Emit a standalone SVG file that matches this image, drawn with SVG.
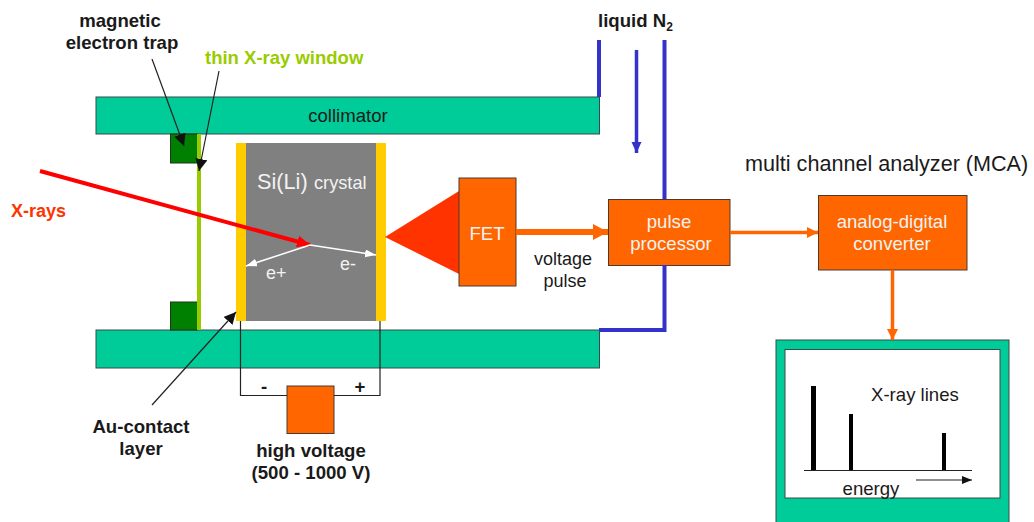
<svg xmlns="http://www.w3.org/2000/svg" width="1034" height="522" viewBox="0 0 1034 522">
<style>
text{font-family:"Liberation Sans",Arial,sans-serif;font-size:18.600px;fill:#1a1a1a}
.b{font-weight:bold}
.m{text-anchor:middle}
.w{fill:#f2f2f2}
.col{fill:#00cc99;stroke:#3a4a48;stroke-width:1}
.org{fill:#ff6600;stroke:#4a3a30;stroke-width:1}
.trap{fill:#008000;stroke:#223322;stroke-width:1}
.gold{fill:#ffcc00}
.blue{fill:none;stroke:#3333cc;stroke-width:4}
.oline{fill:none;stroke:#ff6600}
.thin{fill:none;stroke:#222;stroke-width:1.200}
.bar{fill:#000}
</style>
<defs>
<marker id="k" markerUnits="userSpaceOnUse" markerWidth="14" markerHeight="12" refX="12" refY="6" orient="auto"><path d="M0 0L12 6L0 12Z" fill="#111"/></marker>
<marker id="s" markerUnits="userSpaceOnUse" markerWidth="12" markerHeight="10" refX="10" refY="4" orient="auto"><path d="M0 0L10 4L0 8Z" fill="#111"/></marker>
<marker id="o1" markerUnits="userSpaceOnUse" markerWidth="16" markerHeight="16" refX="15" refY="8" orient="auto"><path d="M0 0L15 8L0 16Z" fill="#ff6600"/></marker>
<marker id="o2" markerUnits="userSpaceOnUse" markerWidth="12" markerHeight="12" refX="11" refY="5.500" orient="auto"><path d="M0 0L11 5.500L0 11Z" fill="#ff6600"/></marker>
<marker id="bl" markerUnits="userSpaceOnUse" markerWidth="12" markerHeight="12" refX="11" refY="5" orient="auto"><path d="M0 0L11 5L0 10Z" fill="#3333cc"/></marker>
<marker id="r" markerUnits="userSpaceOnUse" markerWidth="14" markerHeight="12" refX="13" refY="6" orient="auto"><path d="M0 0L13 6L0 12Z" fill="#ff0000"/></marker>
<marker id="wh" markerUnits="userSpaceOnUse" markerWidth="12" markerHeight="10" refX="11" refY="4" orient="auto"><path d="M0 0L11 4L0 8Z" fill="#fff"/></marker>
</defs>

<g id="collimator-top"><rect class="col" x="96" y="97" width="503.500" height="37"/><text x="348" y="122" class="m">collimator</text></g>
<g id="collimator-bottom"><rect class="col" x="96" y="330" width="503.500" height="38"/></g>
<g id="trap-top"><rect class="trap" x="170.500" y="134" width="27" height="29"/></g>
<g id="trap-bottom"><rect class="trap" x="170.500" y="302" width="27" height="28"/></g>
<g id="window"><rect x="197" y="134" width="4" height="196" fill="#99cc00"/></g>
<g id="crystal">
<rect x="246" y="143" width="130" height="178" fill="#808080"/>
<rect class="gold" x="236" y="143" width="10" height="178"/>
<rect class="gold" x="376" y="143" width="10" height="178"/>
<text x="257" y="189" class="w" style="font-size:21.700px">Si(Li)</text>
<text x="314" y="189" class="w" style="font-size:18.200px">crystal</text>
<text x="266" y="279" class="w" style="font-size:18px">e+</text>
<text x="340" y="270" class="w" style="font-size:18px">e-</text>
</g>
<g id="fet">
<path d="M385 237L459 191V274Z" fill="#ff3300"/>
<rect class="org" x="459" y="178" width="57" height="108"/>
<text x="487" y="240" class="w m">FET</text>
</g>
<g id="pulse-processor"><rect class="org" x="608.500" y="199.500" width="121.500" height="66"/>
<text x="669" y="228" class="w m">pulse</text><text x="671" y="250" class="w m">processor</text></g>
<g id="adc"><rect class="org" x="818.500" y="195.500" width="148.500" height="74.500"/>
<text x="892" y="228" class="w m">analog-digital</text><text x="892" y="250" class="w m">converter</text></g>
<g id="hv"><rect class="org" x="287" y="386" width="47" height="47.500"/></g>
<g id="mca-screen">
<rect class="col" x="776" y="340" width="233" height="190"/>
<rect x="785" y="349.500" width="215" height="148.500" fill="#fff" stroke="#3a4a48"/>
<rect class="bar" x="811" y="386" width="5" height="84"/>
<rect class="bar" x="849" y="414" width="4" height="56"/>
<rect class="bar" x="942" y="433" width="4" height="37"/>
<path d="M804 470.500H972" fill="none" stroke="#222" stroke-width="1.200"/>
<text x="871" y="401">X-ray lines</text>
<text x="871" y="495" class="m">energy</text>
</g>

<g id="connectors">
<path class="blue" d="M599 40V97"/>
<path class="blue" d="M664.500 40V199"/>
<path class="blue" d="M664.500 265V330H599"/>
<path d="M636.500 50V153" fill="none" stroke="#3333cc" stroke-width="3.500" marker-end="url(#bl)"/>
<path class="oline" d="M516 232H608" stroke-width="6" marker-end="url(#o1)"/>
<path class="oline" d="M730 232.500H818" stroke-width="3.500" marker-end="url(#o2)"/>
<path class="oline" d="M892.500 270V340" stroke-width="3.500" marker-end="url(#o2)"/>
<path class="thin" d="M240.500 321V395.500H287M334 395.500H380V321"/>
<path d="M40 171L310 245" fill="none" stroke="#ff0000" stroke-width="4" marker-end="url(#r)"/>
<path d="M310 245L376 255" fill="none" stroke="#fff" stroke-width="1.500" marker-end="url(#wh)"/>
<path d="M310 245L246 266" fill="none" stroke="#fff" stroke-width="1.500" marker-end="url(#wh)"/>
<path class="thin" d="M152 59L184 146" marker-end="url(#k)"/>
<path class="thin" d="M219 71L199 171" marker-end="url(#k)"/>
<path class="thin" d="M152 405L236 312" marker-end="url(#k)"/>
<path class="thin" d="M916 480H972" marker-end="url(#s)"/>
</g>

<g id="labels">
<text x="120" y="27" class="b m">magnetic</text>
<text x="122" y="49" class="b m">electron trap</text>
<text x="205" y="64" class="b" style="fill:#99cc00;font-size:18.500px">thin X-ray window</text>
<text x="11" y="217" class="b" style="fill:#ff3300;font-size:18px">X-rays</text>
<text x="141" y="433" class="b m">Au-contact</text>
<text x="141" y="455" class="b m">layer</text>
<text x="264" y="393" class="b m">-</text>
<text x="360" y="393" class="b m">+</text>
<text x="311" y="457" class="b m">high voltage</text>
<text x="311" y="479" class="b m">(500 - 1000 V)</text>
<text x="598" y="27" class="b">liquid N<tspan dy="4" style="font-size:12px">2</tspan></text>
<text x="563" y="265" class="m" style="font-size:18px">voltage</text>
<text x="565" y="287" class="m" style="font-size:18px">pulse</text>
<text x="745" y="171" style="font-size:21.600px">multi channel analyzer (MCA)</text>
</g>
</svg>
